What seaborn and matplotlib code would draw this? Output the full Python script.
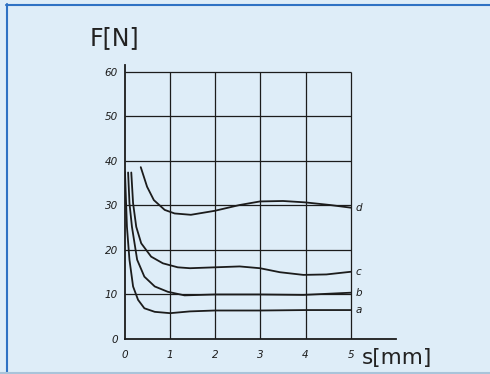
import matplotlib
matplotlib.use("Agg")
import matplotlib.pyplot as plt
from matplotlib.lines import Line2D
import seaborn as sns
import pandas as pd

# ---- data ----
s_a = [0.0, 0.044, 0.10, 0.18, 0.29, 0.43, 0.66, 1.0, 1.44, 1.99, 3.0, 4.0, 5.0]
F_a = [37.5, 25.2, 17.8, 11.8, 8.8, 6.9, 6.1, 5.8, 6.2, 6.4, 6.4, 6.5, 6.5]

s_b = [0.07, 0.10, 0.155, 0.27, 0.43, 0.66, 0.95, 1.32, 1.99, 2.54, 3.0, 3.95, 5.0]
F_b = [37.4, 30.5, 25.2, 17.8, 14.0, 11.8, 10.6, 9.8, 10.0, 10.0, 10.0, 9.9, 10.4]

s_c = [0.14, 0.18, 0.25, 0.36, 0.58, 0.84, 1.17, 1.44, 1.99, 2.54, 2.99, 3.43, 3.95, 4.46, 5.0]
F_c = [37.4, 30.5, 25.2, 21.5, 18.5, 17.0, 16.1, 15.9, 16.1, 16.3, 15.9, 15.0, 14.4, 14.5, 15.1]

s_d = [0.35, 0.49, 0.64, 0.88, 1.1, 1.46, 1.99, 2.54, 2.99, 3.5, 3.98, 4.54, 5.0]
F_d = [38.6, 34.2, 31.2, 29.0, 28.2, 27.9, 28.8, 30.1, 30.9, 31.0, 30.7, 30.1, 29.5]

curve_names = ["a", "b", "c", "d"]
x_ticks = [0, 1, 2, 3, 4, 5]
y_ticks = [0, 10, 20, 30, 40, 50, 60]
x_label = "s[mm]"
y_label = "F[N]"

# ---- build table ----
frames = []
for name, s, F in zip(curve_names, [s_a, s_b, s_c, s_d], [F_a, F_b, F_c, F_d]):
    frames.append(pd.DataFrame({"s": s, "F": F, "curve": name}))
df = pd.concat(frames, ignore_index=True)

bg = "#deedf8"
ink = "#1c1c1c"

sns.set_theme(style="white")
plt.rcParams["font.family"] = ["DejaVu Sans"]

fig = plt.figure(figsize=(4.9, 3.74), dpi=100, facecolor=bg)
ax = fig.add_axes([0.255, 0.0936, 0.553, 0.732])
ax.set_facecolor(bg)

# grid box
ax.hlines(y_ticks[1:], x_ticks[0], x_ticks[-1], color=ink, lw=0.9, zorder=1)
ax.vlines(x_ticks[1:], y_ticks[0], y_ticks[-1], color=ink, lw=0.9, zorder=1)

sns.lineplot(data=df, x="s", y="F", units="curve", estimator=None, sort=False,
             color=ink, lw=1.3, ax=ax, zorder=3, legend=False)
for l in ax.lines:
    l.set_solid_joinstyle("round")

for name, s, F in zip(curve_names, [s_a, s_b, s_c, s_d], [F_a, F_b, F_c, F_d]):
    ax.text(s[-1] + 0.1, F[-1], name, fontsize=7.5, style="italic",
            color=ink, va="center", ha="left")

ax.set_xlim(0, 6.0)
ax.set_ylim(0, 61.5)
ax.set_xticks(x_ticks)
ax.set_yticks(y_ticks)
ax.set_xticklabels([str(v) for v in x_ticks], fontsize=7.5, style="italic", color=ink)
ax.set_yticklabels([str(v) for v in y_ticks], fontsize=7.5, style="italic", color=ink)
ax.tick_params(axis="x", length=0, pad=8)
ax.tick_params(axis="y", length=0, pad=5)
ax.set_xlabel("")
ax.set_ylabel("")

for side in ["top", "right"]:
    ax.spines[side].set_visible(False)
for side in ["left", "bottom"]:
    ax.spines[side].set_color(ink)
    ax.spines[side].set_linewidth(1.3)

fig.text(90 / 490, 1 - 45 / 374, y_label, fontsize=17, color="#222222",
         ha="left", va="baseline")
fig.text(362 / 490, 1 - 364 / 374, x_label, fontsize=15.5, color="#222222",
         ha="left", va="baseline")

# frame lines
fig.add_artist(Line2D([6 / 490, 1], [1 - 4.5 / 374, 1 - 4.5 / 374], color="#2f72c4", lw=1.5))
fig.add_artist(Line2D([6.5 / 490, 6.5 / 490], [1 - 4 / 374, 2 / 374], color="#2f72c4", lw=1.5))
fig.add_artist(Line2D([0, 1], [1.5 / 374, 1.5 / 374], color="#a9c4da", lw=1.5))

fig.savefig("out.png", dpi=100, facecolor=bg)
